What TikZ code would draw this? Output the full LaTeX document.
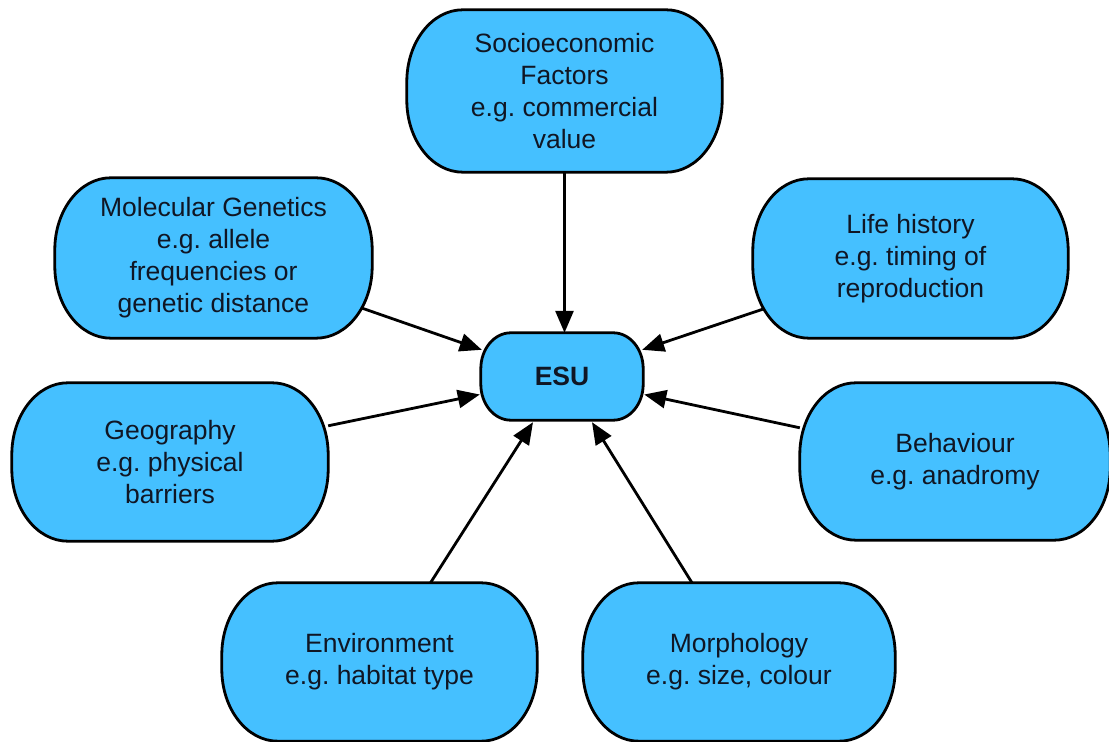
\documentclass[tikz,border=0pt]{standalone}
\usepackage{fontspec}
\setmainfont{Liberation Sans}
\usetikzlibrary{arrows.meta,backgrounds}
\definecolor{pillblue}{RGB}{69,192,255}
\definecolor{inkc}{RGB}{16,22,36}
\newcommand\pillshape[3]{%
  \draw[pillline] ([xshift=#2]#1.north west) -- ([xshift=-#2]#1.north east)
    arc[start angle=90,end angle=0,x radius=#2,y radius=#3]
    -- ([yshift=#3]#1.south east)
    arc[start angle=0,end angle=-90,x radius=#2,y radius=#3]
    -- ([xshift=#2]#1.south west)
    arc[start angle=270,end angle=180,x radius=#2,y radius=#3]
    -- ([yshift=-#3]#1.north west)
    arc[start angle=180,end angle=90,x radius=#2,y radius=#3] -- cycle;}
\begin{document}
\frenchspacing
\begin{tikzpicture}[x=1pt,y=1pt,
  pillline/.style={draw=black,fill=pillblue,line width=2.8pt},
  factor/.style={inner sep=0pt,align=center,text=inkc,
    font=\fontsize{26.5}{32}\selectfont},
  arr/.style={draw=black,line width=2.8pt,-{Triangle[length=22pt,width=18pt]}}]
\useasboundingbox (0,0) rectangle (1109,742);
\node[factor,minimum width=315,minimum height=162] (soc) at (564.5,651) {Socioeconomic\\Factors\\e.g. commercial\\value};
\node[factor,minimum width=317,minimum height=160] (mol) at (213.5,484) {Molecular Genetics\\e.g. allele\\frequencies or\\genetic distance};
\node[factor,minimum width=315,minimum height=159] (life) at (910.5,483.5) {Life history\\e.g. timing of\\reproduction};
\node[factor,minimum width=316,minimum height=158] (geo) at (170,280) {Geography\\e.g. physical\\barriers};
\node[factor,minimum width=310,minimum height=157] (beh) at (955,280.5) {Behaviour\\e.g. anadromy};
\node[factor,minimum width=315,minimum height=158] (env) at (379.5,80) {Environment\\e.g. habitat type};
\node[factor,minimum width=312,minimum height=158] (mor) at (739,80) {Morphology\\e.g. size, colour};
\node[factor,minimum width=162,minimum height=87,font=\fontsize{26.5}{32}\selectfont\bfseries] (esu) at (562,365.5) {ESU};
\begin{scope}[on background layer]
\pillshape{soc}{56pt}{72pt}
\pillshape{mol}{56pt}{72pt}
\pillshape{life}{56pt}{72pt}
\pillshape{geo}{56pt}{72pt}
\pillshape{beh}{56pt}{72pt}
\pillshape{env}{56pt}{72pt}
\pillshape{mor}{56pt}{72pt}
\pillshape{esu}{30pt}{36pt}
\end{scope}
\draw[arr] (soc.south) -- (soc.south |- esu.north);
\draw[arr] ([xshift=-10pt,yshift=30pt]mol.south east) -- ([xshift=1pt,yshift=-17pt]esu.north west);
\draw[arr] ([yshift=-43pt]geo.north east) -- ([xshift=-1pt,yshift=-18pt]esu.west);
\draw[arr] ([xshift=10pt,yshift=29pt]life.south west) -- ([xshift=-1pt,yshift=-17pt]esu.north east);
\draw[arr] ([yshift=-45pt]beh.north west) -- ([xshift=1pt,yshift=-18pt]esu.east);
\draw[arr] ([xshift=51pt]env.north) -- ([xshift=-29pt,yshift=-2pt]esu.south);
\draw[arr] ([xshift=-47pt]mor.north) -- ([xshift=30pt,yshift=-2pt]esu.south);
\end{tikzpicture}
\end{document}
